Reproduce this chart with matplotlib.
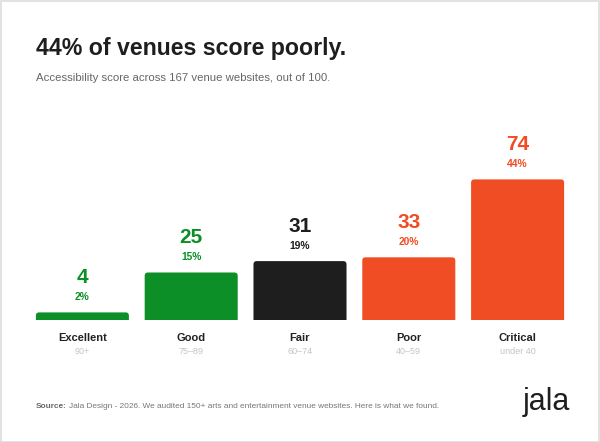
import matplotlib.pyplot as plt
from matplotlib.patches import Rectangle, FancyBboxPatch

categories = ['Excellent', 'Good', 'Fair', 'Poor', 'Critical']
ranges = ['90+', '75\u201389', '60\u201374', '40\u201359', 'under 40']
counts = [4, 25, 31, 33, 74]
shares = [2, 15, 19, 20, 44]

GREEN = '#0b8f26'
BLACK = '#1e1e1e'
RED = '#f04d24'
colors = [GREEN, GREEN, BLACK, RED, RED]

plt.rcParams['font.family'] = ['Liberation Sans', 'DejaVu Sans']

W, H = 600, 442
fig = plt.figure(figsize=(W / 100, H / 100), dpi=100)
fig.patches.append(Rectangle((0.001, 0.001), 0.998, 0.997, transform=fig.transFigure,
                             fill=False, edgecolor='#dddddd', linewidth=1.2))

# axes: x 28..572 px, baseline at y=320 px from top, 80 units = 152 px
ax = fig.add_axes([28 / W, (H - 320) / H, 544 / W, 152 / H])
bars = ax.bar(range(len(counts)), counts, width=0.855, color=colors)
ax.set_xlim(-0.5, 4.5)
ax.set_ylim(0, 80)
ax.axis('off')

# swap plain bars for ones with rounded tops (bottom hidden under the baseline)
aspect = (80 / 152) / (5 / 544)
for b in bars:
    x, w, h = b.get_x(), b.get_width(), b.get_height()
    b.set_visible(False)
    ax.add_patch(FancyBboxPatch((x, -3), w, h + 3,
                                boxstyle='round,pad=0,rounding_size=0.03',
                                mutation_aspect=aspect, facecolor=b.get_facecolor(),
                                edgecolor='none', clip_on=True))

for i, (c, s, col) in enumerate(zip(counts, shares, colors)):
    ax.annotate(str(c), xy=(i, c), xytext=(0, 35), textcoords='offset pixels',
                ha='center', va='center', fontsize=15, fontweight='bold', color=col)
    ax.annotate(f'{s}%', xy=(i, c), xytext=(0, 15), textcoords='offset pixels',
                ha='center', va='center', fontsize=7.4, fontweight='bold', color=col)
    ax.annotate(categories[i], xy=(i, 0), xytext=(0, -18), textcoords='offset pixels',
                ha='center', va='center', fontsize=8, fontweight='bold', color='#222222')
    ax.annotate(ranges[i], xy=(i, 0), xytext=(0, -32), textcoords='offset pixels',
                ha='center', va='center', fontsize=6.5, color='#c4c4c4')

fig.text(36 / W, 1 - 49 / H, '44% of venues score poorly.', fontsize=16.7,
         fontweight='bold', color='#1e1e1e', va='center', ha='left')
fig.text(36 / W, 1 - 78 / H, 'Accessibility score across 167 venue websites, out of 100.',
         fontsize=8.2, color='#666666', va='center', ha='left')

src = fig.text(36 / W, 1 - 407 / H, 'Source:', fontsize=5.95, fontweight='bold',
               color='#666666', va='center', ha='left')
ax.annotate('Jala Design - 2026. We audited 150+ arts and entertainment venue websites. Here is what we found.',
            xy=(1, 0), xycoords=src, xytext=(2.5, 0), textcoords='offset pixels',
            fontsize=5.95, color='#777777', va='bottom', ha='left',
            annotation_clip=False)

fig.text(570 / W, 1 - 402 / H, 'jala', fontsize=22, color='#1e1e1e',
         va='center', ha='right')

fig.savefig('out.png', dpi=100)
